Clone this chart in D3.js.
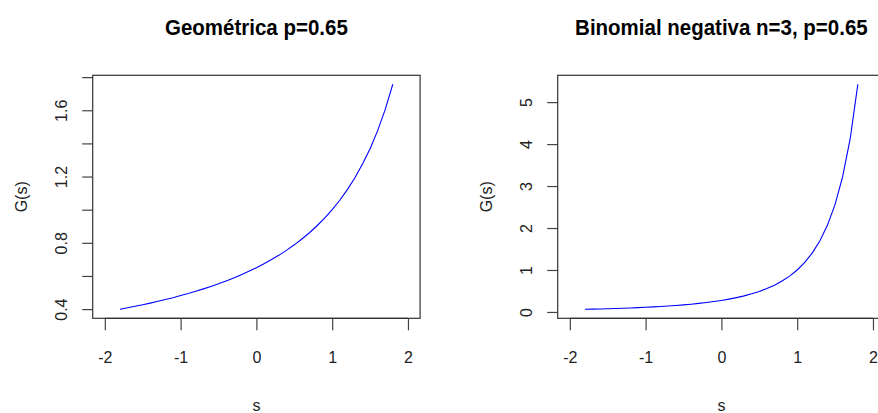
<!DOCTYPE html>
<html lang="es">
<head>
<meta charset="UTF-8">
<title>Funciones generatrices</title>
<script src="https://d3js.org/d3.v7.min.js"></script>
<style>
    body{ margin:0; background:#fff; }
    svg{ display:block; font-family:"Liberation Sans", Arial, sans-serif; }
    .box{ fill:none; stroke:#333; stroke-width:1.2; }
    .tick line, .axline{ stroke:#444; stroke-width:1.2; }
    .tick text{ fill:#222; font-size:16px; }
    .title{ font-weight:bold; font-size:20.5px; fill:#000; }
    .lab{ font-size:16px; fill:#222; }
</style>
</head>
<body>
<svg id="chart" width="878" height="413"></svg>
<script>
    // valores de s (eje x)
    let s = [-1.8,-1.7,-1.6,-1.5,-1.4,-1.3,-1.2,-1.1,-1.0,-0.9,-0.8,-0.7,-0.6,-0.5,-0.4,-0.3,-0.2,-0.1,
        0,0.1,0.2,0.3,0.4,0.5,0.6,0.7,0.8,0.9,1.0,1.1,1.2,1.3,1.4,1.5,1.6,1.7,1.8]
    // geometrica p=0.65
    let geom = [0.399,0.408,0.417,0.426,0.436,0.447,0.458,0.469,0.482,0.494,0.508,0.522,0.537,0.553,0.570,0.588,0.608,0.628,
        0.650,0.674,0.699,0.726,0.756,0.788,0.823,0.861,0.903,0.949,1.000,1.057,1.121,1.193,1.275,1.368,1.477,1.605,1.757]
    // binomial negativa n=3, p=0.65
    let nbin = [0.063,0.068,0.072,0.077,0.083,0.089,0.096,0.103,0.112,0.121,0.131,0.142,0.155,0.169,0.185,0.204,0.224,0.248,
        0.275,0.306,0.341,0.383,0.432,0.489,0.557,0.638,0.736,0.854,1.000,1.181,1.408,1.697,2.070,2.562,3.224,4.134,5.422]

    let xTicks = [-2,-1,0,1,2]
    let geomTicks = [0.4,0.6,0.8,1.0,1.2,1.4,1.6,1.8]
    let geomLabels = [0.4,0.8,1.2,1.6]
    let nbinTicks = [0,1,2,3,4,5]

    let svg = d3.select("#chart")

    function panel(left, titulo, yvals, ydom, yticks, ylabels, yfmt){
        let top = 75.3, bottom = 318.3, w = 327.4
        let x = d3.scaleLinear().domain([-2.16,2.16]).range([left, left+w])
        let y = d3.scaleLinear().domain(ydom).range([bottom, top])
        let g = svg.append("g")

        // x axis
        let xa = g.append("g")
            .attr("transform","translate(0,"+bottom+")")
            .call(d3.axisBottom(x).tickValues(xTicks).tickSize(12).tickFormat(d3.format("d")))
        xa.select(".domain").remove()
        xa.selectAll("text").attr("y",33.5).attr("dy","0.71em")
            .text(d => d < 0 ? "-" + Math.abs(d) : d)
        xa.append("line").attr("class","axline")
            .attr("x1",x(xTicks[0])).attr("x2",x(xTicks[xTicks.length-1]))

        // y axis
        let ya = g.append("g")
            .attr("transform","translate("+left+",0)")
            .call(d3.axisLeft(y).tickValues(yticks).tickSize(10.5)
                .tickFormat(d => ylabels.includes(d) ? yfmt(d) : ""))
        ya.select(".domain").remove()
        ya.selectAll("text")
            .attr("x",null).attr("dy",null)
            .attr("text-anchor","middle")
            .attr("transform","translate(-25.5,0) rotate(-90)")

        // box
        g.append("rect").attr("class","box")
            .attr("x",left).attr("y",top).attr("width",w).attr("height",bottom-top)

        // curve
        let line = d3.line().x((d,i) => x(s[i])).y(d => y(d))
        g.append("path").datum(yvals)
            .attr("d",line)
            .attr("fill","none").attr("stroke","#0000ff").attr("stroke-width",1.1)

        // texts
        g.append("text").attr("class","title")
            .attr("transform","translate("+x(0)+",35) scale(1,1.12)")
            .attr("text-anchor","middle").text(titulo)
        g.append("text").attr("class","lab")
            .attr("x",x(0)).attr("y",411).attr("text-anchor","middle").text("s")
        g.append("text").attr("class","lab")
            .attr("transform","translate("+(left-65.5)+","+((top+bottom)/2)+") rotate(-90)")
            .attr("text-anchor","middle").text("G(s)")
    }

    panel(92.7, "Geométrica p=0.65", geom, [0.3445,1.811], geomTicks, geomLabels, d3.format(".1f"))
    panel(557.7, "Binomial negativa n=3, p=0.65", nbin, [-0.151,5.639], nbinTicks, nbinTicks, d3.format("d"))
</script>
</body>
</html>
